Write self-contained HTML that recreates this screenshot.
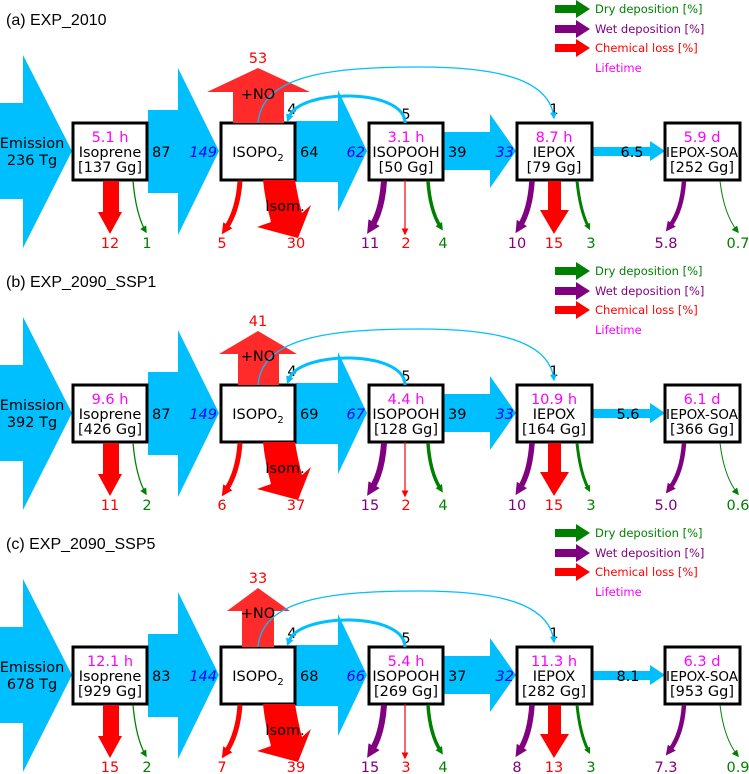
<!DOCTYPE html>
<html><head><meta charset="utf-8"><style>
html,body{margin:0;padding:0;background:#fff;}
svg{display:block;font-family:"DejaVu Sans","Liberation Sans",sans-serif;}
.t{font-size:14.5px;text-anchor:middle;}
.m{fill:#ff00ff;}
.f{font-size:14.5px;}
.i{font-size:14.5px;fill:#0000ff;font-style:italic;text-anchor:end;}
.ttl{font-family:"Liberation Sans",sans-serif;font-size:16px;}
.lg{font-size:11.5px;}
.b{fill:#00bfff;}
.box{fill:#fff;stroke:#000;stroke-width:3;}
</style></head><body>
<svg width="749" height="774" viewBox="0 0 749 774" xmlns="http://www.w3.org/2000/svg">
<defs>
<marker id="mr" viewBox="0 0 10 10" refX="3" refY="5" markerWidth="2.2" markerHeight="2.2" orient="auto"><path d="M0,0L10,5L0,10z" fill="#ff0000"/></marker>
<marker id="mp" viewBox="0 0 10 10" refX="3" refY="5" markerWidth="2.2" markerHeight="2.2" orient="auto"><path d="M0,0L10,5L0,10z" fill="#800080"/></marker>
<marker id="mg" viewBox="0 0 10 10" refX="3" refY="5" markerWidth="2.2" markerHeight="2.2" orient="auto"><path d="M0,0L10,5L0,10z" fill="#008000"/></marker>
<marker id="mb" viewBox="0 0 10 10" refX="3" refY="5" markerWidth="2.6" markerHeight="2.6" orient="auto"><path d="M0,0L10,5L0,10z" fill="#00bfff"/></marker>
<marker id="tr" viewBox="0 0 10 10" refX="8" refY="5" markerWidth="7" markerHeight="7" markerUnits="userSpaceOnUse" orient="auto"><path d="M0,0L10,5L0,10z" fill="#ff0000"/></marker>
<marker id="tg" viewBox="0 0 10 10" refX="8" refY="5" markerWidth="7" markerHeight="7" markerUnits="userSpaceOnUse" orient="auto"><path d="M0,0L10,5L0,10z" fill="#008000"/></marker>
<marker id="tb" viewBox="0 0 10 10" refX="8" refY="5" markerWidth="7" markerHeight="7" markerUnits="userSpaceOnUse" orient="auto"><path d="M0,0L10,5L0,10z" fill="#00bfff"/></marker>

<g id="common">
<polygon points="555,5 576,5 576,0 590,9 576,18 576,13 555,13" fill="#008000"/>
<polygon points="555,25 576,25 576,20 590,29 576,38 576,33 555,33" fill="#800080"/>
<polygon points="555,44 576,44 576,39 590,48 576,57 576,52 555,52" fill="#ff0000"/>
<text x="595" y="13" class="lg" fill="#008000">Dry deposition [%]</text>
<text x="595" y="33" class="lg" fill="#800080">Wet deposition [%]</text>
<text x="595" y="52" class="lg" fill="#ff0000">Chemical loss [%]</text>
<text x="595" y="72" class="lg" fill="#ff00ff">Lifetime</text>
<polygon class="b" points="0,103 23,103 23,55 72,151 23,248 23,199 0,199"/>
<polygon class="b" points="148,110 178,110 178,68 219,151 178,235 178,193 148,193"/>
<polygon class="b" points="296,121 338,121 338,90 367,151 338,212 338,182 296,182"/>
<polygon class="b" points="444,132 490,132 490,114 516,151 490,188 490,170 444,170"/>
<polygon class="b" points="593,147 650,147 650,141 665,151 650,161 650,156 593,156"/>
<rect class="box" x="73" y="123" width="74" height="57"/>
<rect class="box" x="221" y="123" width="74" height="57"/>
<rect class="box" x="369" y="123" width="74" height="57"/>
<rect class="box" x="517" y="123" width="75" height="57"/>
<rect class="box" x="665" y="123" width="75" height="57"/>
<path d="M240,181 Q238,210 226,228" fill="none" stroke="#ff0000" stroke-width="5" marker-end="url(#mr)"/>
<path d="M263,180 L295,180 Q298,198 302,213 L311,205 L298,238 L257,227 L271,222 Q265,200 263,180Z" fill="#ff0000"/>
<text x="285" y="211" class="t">Isom.</text>
<line x1="405" y1="180" x2="405" y2="234" stroke="#ff0000" stroke-width="1.2" marker-end="url(#tr)"/>
<path d="M384,181 Q382,210 372,226" fill="none" stroke="#800080" stroke-width="6" marker-end="url(#mp)"/>
<path d="M428,181 Q430,210 440,226" fill="none" stroke="#008000" stroke-width="3.5" marker-end="url(#mg)"/>
<path d="M532,181 Q530,210 520,226" fill="none" stroke="#800080" stroke-width="5.5" marker-end="url(#mp)"/>
<polygon points="548,181 561,181 561,210 569,210 554,234 540,210 548,210" fill="#ff0000"/>
<path d="M577,181 Q580,210 588,226" fill="none" stroke="#008000" stroke-width="3" marker-end="url(#mg)"/>
<path d="M684,181 Q682,210 670,226" fill="none" stroke="#800080" stroke-width="4.5" marker-end="url(#mp)"/>
<path d="M720,181 Q724,215 738,232" fill="none" stroke="#008000" stroke-width="1" marker-end="url(#tg)"/>
<path d="M133,181 Q136,215 146,232" fill="none" stroke="#008000" stroke-width="1.3" marker-end="url(#tg)"/>
<polygon points="103,181 119,181 119,212 122,212 110,234 98,212 103,212" fill="#ff0000"/>
<text x="110" y="157" class="t">Isoprene</text>
<text x="258" y="157" class="t">ISOPO<tspan font-size="10" dy="4">2</tspan></text>
<text x="406" y="157" class="t">ISOPOOH</text>
<text x="554" y="157" class="t">IEPOX</text>
<text x="702" y="157" class="t" style="font-size:13.5px">IEPOX-SOA</text>
<text x="406" y="119" class="t">5</text>
<text x="292" y="114" class="t">4</text>
<text x="554" y="114" class="t">1</text>
</g>
<g id="curves">
<path d="M258,123 C262,75 330,67 420,67 C500,67 550,80 554,118" fill="none" stroke="#00bfff" stroke-width="1.3" marker-end="url(#tb)"/>
<path d="M405,123 C405,88 300,88 289,117" fill="none" stroke="#00bfff" stroke-width="3" marker-end="url(#mb)"/>
</g>
</defs>

<g>
<use href="#common"/>
<text x="6" y="25" class="ttl">(a) EXP_2010</text>
<polygon points="233,123 284,123 284,92 310,92 258,68 207,92 233,92" fill="#ff2a2a"/>
<use href="#curves"/>
<text x="258" y="99" class="t">+NO</text>
<text x="258" y="63" class="t" fill="#ff0000">53</text>
<text x="32" y="148" class="t">Emission</text><text x="32" y="165" class="t">236 Tg</text>
<text x="110" y="142" class="t m">5.1 h</text><text x="110" y="172" class="t">[137 Gg]</text>
<text x="406" y="142" class="t m">3.1 h</text><text x="406" y="172" class="t">[50 Gg]</text>
<text x="554" y="142" class="t m">8.7 h</text><text x="554" y="172" class="t">[79 Gg]</text>
<text x="702" y="142" class="t m">5.9 d</text><text x="702" y="172" class="t">[252 Gg]</text>
<text x="152" y="157" class="f">87</text><text x="217" y="157" class="i">149</text>
<text x="300" y="157" class="f">64</text><text x="365" y="157" class="i">62</text>
<text x="448" y="157" class="f">39</text><text x="514" y="157" class="i">33</text>
<text x="632" y="157" class="t">6.5</text>
<g class="t">
<text x="110" y="248" fill="#ff0000">12</text><text x="147" y="248" fill="#008000">1</text>
<text x="222" y="248" fill="#ff0000">5</text><text x="296" y="248" fill="#ff0000">30</text>
<text x="370" y="248" fill="#800080">11</text><text x="406" y="248" fill="#ff0000">2</text><text x="443" y="248" fill="#008000">4</text>
<text x="517" y="248" fill="#800080">10</text><text x="554" y="248" fill="#ff0000">15</text><text x="591" y="248" fill="#008000">3</text>
<text x="666" y="248" fill="#800080">5.8</text><text x="738" y="248" fill="#008000">0.7</text>
</g>
</g>

<g transform="translate(0,262)">
<use href="#common"/>
<text x="6" y="25" class="ttl">(b) EXP_2090_SSP1</text>
<polygon points="238,123 279,123 279,92 297,92 258,69 219,92 238,92" fill="#ff2a2a"/>
<use href="#curves"/>
<text x="258" y="99" class="t">+NO</text>
<text x="258" y="64" class="t" fill="#ff0000">41</text>
<text x="32" y="148" class="t">Emission</text><text x="32" y="165" class="t">392 Tg</text>
<text x="110" y="142" class="t m">9.6 h</text><text x="110" y="172" class="t">[426 Gg]</text>
<text x="406" y="142" class="t m">4.4 h</text><text x="406" y="172" class="t">[128 Gg]</text>
<text x="554" y="142" class="t m">10.9 h</text><text x="554" y="172" class="t">[164 Gg]</text>
<text x="702" y="142" class="t m">6.1 d</text><text x="702" y="172" class="t">[366 Gg]</text>
<text x="152" y="157" class="f">87</text><text x="217" y="157" class="i">149</text>
<text x="300" y="157" class="f">69</text><text x="365" y="157" class="i">67</text>
<text x="448" y="157" class="f">39</text><text x="514" y="157" class="i">33</text>
<text x="628" y="157" class="t">5.6</text>
<g class="t">
<text x="110" y="248" fill="#ff0000">11</text><text x="147" y="248" fill="#008000">2</text>
<text x="222" y="248" fill="#ff0000">6</text><text x="296" y="248" fill="#ff0000">37</text>
<text x="370" y="248" fill="#800080">15</text><text x="406" y="248" fill="#ff0000">2</text><text x="443" y="248" fill="#008000">4</text>
<text x="517" y="248" fill="#800080">10</text><text x="554" y="248" fill="#ff0000">15</text><text x="591" y="248" fill="#008000">3</text>
<text x="666" y="248" fill="#800080">5.0</text><text x="738" y="248" fill="#008000">0.6</text>
</g>
</g>

<g transform="translate(0,524)">
<use href="#common"/>
<text x="6" y="25" class="ttl">(c) EXP_2090_SSP5</text>
<polygon points="242,123 274,123 274,87 290,87 258,64 227,87 242,87" fill="#ff2a2a"/>
<use href="#curves"/>
<text x="258" y="94" class="t">+NO</text>
<text x="258" y="59" class="t" fill="#ff0000">33</text>
<text x="32" y="148" class="t">Emission</text><text x="32" y="165" class="t">678 Tg</text>
<text x="110" y="142" class="t m">12.1 h</text><text x="110" y="172" class="t">[929 Gg]</text>
<text x="406" y="142" class="t m">5.4 h</text><text x="406" y="172" class="t">[269 Gg]</text>
<text x="554" y="142" class="t m">11.3 h</text><text x="554" y="172" class="t">[282 Gg]</text>
<text x="702" y="142" class="t m">6.3 d</text><text x="702" y="172" class="t">[953 Gg]</text>
<text x="152" y="157" class="f">83</text><text x="217" y="157" class="i">144</text>
<text x="300" y="157" class="f">68</text><text x="365" y="157" class="i">66</text>
<text x="448" y="157" class="f">37</text><text x="514" y="157" class="i">32</text>
<text x="628" y="157" class="t">8.1</text>
<g class="t">
<text x="110" y="248" fill="#ff0000">15</text><text x="147" y="248" fill="#008000">2</text>
<text x="222" y="248" fill="#ff0000">7</text><text x="296" y="248" fill="#ff0000">39</text>
<text x="370" y="248" fill="#800080">15</text><text x="406" y="248" fill="#ff0000">3</text><text x="443" y="248" fill="#008000">4</text>
<text x="517" y="248" fill="#800080">8</text><text x="554" y="248" fill="#ff0000">13</text><text x="591" y="248" fill="#008000">3</text>
<text x="666" y="248" fill="#800080">7.3</text><text x="738" y="248" fill="#008000">0.9</text>
</g>
</g>
</svg>
</body></html>
